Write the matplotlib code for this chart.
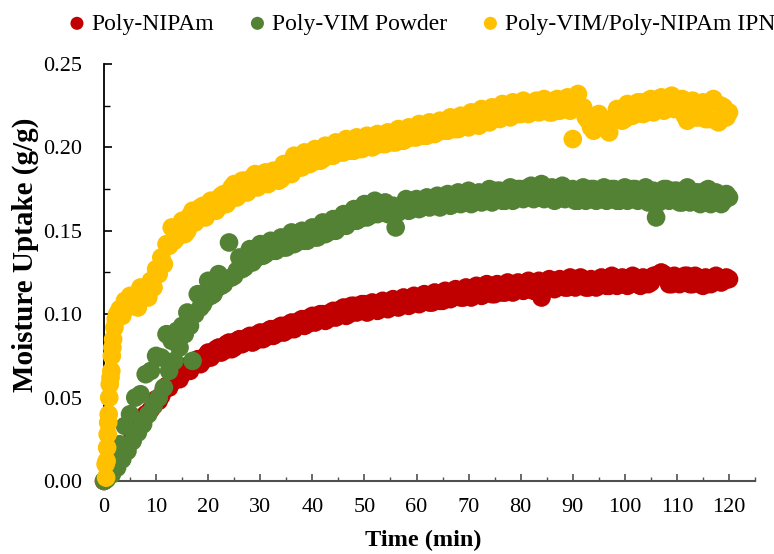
import matplotlib.pyplot as plt
import numpy as np

# moisture uptake (g/g): whole-minute readings
red_time = list(range(0, 121))
red_uptake = [
    0.000, 0.005, 0.009, 0.015, 0.019, 0.023, 0.030, 0.033, 0.040, 0.043,
    0.049, 0.051, 0.057, 0.059, 0.064, 0.064, 0.069, 0.069, 0.073, 0.072,
    0.077, 0.076, 0.080, 0.078, 0.083, 0.080, 0.085, 0.083, 0.087, 0.084,
    0.089, 0.086, 0.091, 0.088, 0.093, 0.090, 0.095, 0.093, 0.097, 0.094,
    0.099, 0.096, 0.100, 0.097, 0.102, 0.099, 0.104, 0.100, 0.105, 0.102,
    0.106, 0.102, 0.105, 0.103, 0.107, 0.104, 0.108, 0.105, 0.109, 0.106,
    0.110, 0.107, 0.111, 0.107, 0.112, 0.108, 0.113, 0.110, 0.114, 0.110,
    0.115, 0.111, 0.114, 0.112, 0.116, 0.112, 0.117, 0.113, 0.117, 0.114,
    0.118, 0.115, 0.119, 0.115, 0.110, 0.116, 0.119, 0.116, 0.120, 0.116,
    0.120, 0.117, 0.121, 0.116, 0.120, 0.117, 0.121, 0.117, 0.122, 0.118,
    0.121, 0.118, 0.122, 0.117, 0.121, 0.119, 0.123, 0.125, 0.121, 0.118,
    0.122, 0.119, 0.123, 0.118, 0.122, 0.117, 0.121, 0.119, 0.122, 0.120,
    0.121,
]
# half-minute readings in between
red_time_half = [m + 0.5 for m in range(0, 120)]
red_uptake_half = [
    0.002, 0.006, 0.011, 0.016, 0.021, 0.026, 0.031, 0.036, 0.041, 0.045,
    0.048, 0.055, 0.056, 0.062, 0.061, 0.067, 0.066, 0.071, 0.070, 0.075,
    0.074, 0.079, 0.077, 0.082, 0.079, 0.084, 0.082, 0.086, 0.083, 0.088,
    0.085, 0.090, 0.087, 0.092, 0.089, 0.094, 0.091, 0.096, 0.093, 0.098,
    0.095, 0.100, 0.096, 0.101, 0.098, 0.103, 0.099, 0.105, 0.101, 0.106,
    0.101, 0.107, 0.102, 0.108, 0.103, 0.109, 0.104, 0.110, 0.105, 0.111,
    0.106, 0.112, 0.107, 0.113, 0.108, 0.114, 0.109, 0.115, 0.110, 0.116,
    0.110, 0.117, 0.111, 0.118, 0.112, 0.118, 0.113, 0.119, 0.113, 0.119,
    0.114, 0.120, 0.114, 0.120, 0.115, 0.121, 0.115, 0.121, 0.116, 0.122,
    0.116, 0.122, 0.116, 0.121, 0.116, 0.122, 0.117, 0.123, 0.117, 0.122,
    0.117, 0.123, 0.118, 0.122, 0.118, 0.123, 0.124, 0.124, 0.118, 0.123,
    0.118, 0.123, 0.118, 0.123, 0.118, 0.122, 0.118, 0.123, 0.119, 0.122,
]

green_time = list(range(0, 121))
green_uptake = [
    0.000, 0.005, 0.015, 0.022, 0.033, 0.040, 0.050, 0.052, 0.064, 0.066,
    0.075, 0.074, 0.088, 0.084, 0.090, 0.093, 0.101, 0.072, 0.112, 0.106,
    0.120, 0.112, 0.124, 0.118, 0.143, 0.123, 0.134, 0.128, 0.139, 0.133,
    0.142, 0.136, 0.144, 0.138, 0.146, 0.140, 0.149, 0.143, 0.150, 0.144,
    0.152, 0.146, 0.155, 0.149, 0.157, 0.152, 0.160, 0.155, 0.163, 0.157,
    0.166, 0.159, 0.168, 0.161, 0.167, 0.162, 0.152, 0.163, 0.169, 0.163,
    0.169, 0.164, 0.170, 0.165, 0.171, 0.166, 0.172, 0.166, 0.173, 0.167,
    0.174, 0.167, 0.173, 0.168, 0.175, 0.169, 0.174, 0.168, 0.176, 0.170,
    0.175, 0.170, 0.177, 0.171, 0.178, 0.170, 0.176, 0.169, 0.177, 0.171,
    0.175, 0.168, 0.176, 0.170, 0.175, 0.169, 0.176, 0.170, 0.175, 0.168,
    0.176, 0.169, 0.175, 0.170, 0.176, 0.168, 0.158, 0.169, 0.175, 0.170,
    0.174, 0.167, 0.176, 0.169, 0.173, 0.167, 0.175, 0.168, 0.172, 0.168,
    0.170,
]
green_time_half = [m + 0.5 for m in range(0, 120)]
green_uptake_half = [
    0.001, 0.004, 0.008, 0.013, 0.018, 0.024, 0.029, 0.034, 0.040, 0.045,
    0.050, 0.056, 0.066, 0.072, 0.080, 0.088, 0.093, 0.100, 0.104, 0.109,
    0.111, 0.115, 0.117, 0.121, 0.122, 0.126, 0.127, 0.131, 0.131, 0.135,
    0.135, 0.138, 0.138, 0.141, 0.140, 0.143, 0.142, 0.145, 0.144, 0.147,
    0.146, 0.149, 0.148, 0.152, 0.150, 0.154, 0.153, 0.157, 0.156, 0.160,
    0.158, 0.162, 0.160, 0.164, 0.160, 0.165, 0.161, 0.166, 0.162, 0.167,
    0.163, 0.168, 0.164, 0.169, 0.164, 0.170, 0.165, 0.171, 0.166, 0.172,
    0.166, 0.172, 0.167, 0.173, 0.167, 0.174, 0.168, 0.174, 0.168, 0.175,
    0.169, 0.176, 0.169, 0.176, 0.169, 0.175, 0.168, 0.175, 0.169, 0.174,
    0.168, 0.174, 0.168, 0.175, 0.168, 0.175, 0.168, 0.175, 0.168, 0.174,
    0.168, 0.175, 0.168, 0.174, 0.167, 0.174, 0.167, 0.175, 0.168, 0.174,
    0.167, 0.174, 0.167, 0.173, 0.166, 0.174, 0.166, 0.173, 0.166, 0.172,
]

# the IPN jumps up in the first two minutes, so it is sampled finer there
yellow_time = [0.4, 0.6, 0.8, 1.0, 1.25, 1.5, 1.75, 2.0, 2.5] + list(range(3, 121))
yellow_uptake = [
    0.002, 0.020, 0.035, 0.050, 0.062, 0.075, 0.085, 0.092, 0.100,
    0.103, 0.108, 0.111, 0.109, 0.116, 0.114, 0.120,
    0.127, 0.134, 0.142, 0.152, 0.146, 0.156, 0.150, 0.162, 0.158, 0.165,
    0.161, 0.168, 0.164, 0.172, 0.168, 0.178, 0.172, 0.180, 0.176, 0.184,
    0.178, 0.185, 0.180, 0.186, 0.181, 0.188, 0.184, 0.194, 0.188, 0.196,
    0.191, 0.197, 0.193, 0.200, 0.195, 0.202, 0.197, 0.204, 0.198, 0.205,
    0.200, 0.206, 0.201, 0.207, 0.202, 0.208, 0.203, 0.209, 0.205, 0.210,
    0.206, 0.212, 0.207, 0.214, 0.209, 0.215, 0.210, 0.216, 0.211, 0.217,
    0.212, 0.219, 0.213, 0.220, 0.215, 0.222, 0.217, 0.224, 0.218, 0.225,
    0.220, 0.226, 0.221, 0.228, 0.222, 0.227, 0.221, 0.229, 0.223, 0.230,
    0.205, 0.232, 0.224, 0.216, 0.210, 0.220, 0.214, 0.209, 0.218, 0.222,
    0.217, 0.225, 0.220, 0.227, 0.221, 0.229, 0.222, 0.230, 0.224, 0.231,
    0.225, 0.229, 0.216, 0.228, 0.218, 0.227, 0.217, 0.229, 0.215, 0.224,
    0.221,
]
yellow_time_half = [0.3, 0.5, 0.7, 0.9, 1.1, 1.4, 1.6, 2.25] + [m + 0.5 for m in range(3, 120)]
yellow_uptake_half = [
    0.010, 0.012, 0.028, 0.040, 0.058, 0.066, 0.080, 0.097,
    0.099, 0.104, 0.106, 0.104, 0.110, 0.110, 0.116,
    0.124, 0.130, 0.141, 0.144, 0.150, 0.148, 0.159, 0.155, 0.164, 0.158,
    0.168, 0.162, 0.171, 0.166, 0.176, 0.170, 0.180, 0.173, 0.182, 0.176,
    0.184, 0.178, 0.186, 0.180, 0.190, 0.185, 0.195, 0.188, 0.197, 0.190,
    0.199, 0.192, 0.201, 0.195, 0.203, 0.197, 0.205, 0.198, 0.206, 0.199,
    0.207, 0.200, 0.208, 0.202, 0.209, 0.203, 0.211, 0.204, 0.212, 0.206,
    0.214, 0.207, 0.215, 0.208, 0.216, 0.210, 0.218, 0.211, 0.219, 0.213,
    0.221, 0.214, 0.223, 0.216, 0.224, 0.218, 0.226, 0.219, 0.227, 0.220,
    0.228, 0.220, 0.227, 0.221, 0.229, 0.221, 0.228, 0.222, 0.229, 0.222,
    0.230, 0.223, 0.218, 0.212, 0.219, 0.215, 0.211, 0.217, 0.223, 0.216,
    0.226, 0.219, 0.227, 0.220, 0.228, 0.221, 0.229, 0.222, 0.230, 0.223,
    0.228, 0.219, 0.226, 0.218, 0.226, 0.217, 0.227, 0.216, 0.225, 0.218,
]

labels = ['Poly-NIPAm', 'Poly-VIM Powder', 'Poly-VIM/Poly-NIPAm IPN']
colors = ['#C00000', '#548235', '#FFC000']

plt.rcParams['font.family'] = ['Liberation Serif', 'DejaVu Serif']

fig = plt.figure(figsize=(7.74, 5.54), dpi=100)
ax = fig.add_axes([0.1344, 0.1318, 0.8411, 0.7527])

series = [
    (red_time + red_time_half, red_uptake + red_uptake_half),
    (green_time + green_time_half, green_uptake + green_uptake_half),
    (yellow_time + yellow_time_half, yellow_uptake + yellow_uptake_half),
]
for (t, u), lab, c in zip(series, labels, colors):
    ax.scatter(t, u, s=180, color=c, edgecolors='none', label=lab, zorder=3, clip_on=False)

ax.set_xlim(0, 125)
ax.set_ylim(0, 0.25)
ax.set_xticks(np.arange(0, 121, 10))
ax.set_xticks(np.arange(0, 126, 5), minor=True)
ax.set_yticks(np.arange(0, 0.251, 0.05))
ax.set_yticks(np.arange(0, 0.251, 0.025), minor=True)
ax.yaxis.set_major_formatter(plt.FormatStrFormatter('%.2f'))

ax.tick_params(axis='both', which='both', direction='in', labelsize=16)
ax.tick_params(axis='x', which='major', length=5, width=1.2, color='#505050', pad=12)
ax.tick_params(axis='x', which='minor', length=3, width=1.0, color='#505050')
ax.tick_params(axis='y', which='major', length=6, width=1.2, pad=16)
ax.tick_params(axis='y', which='minor', length=4, width=1.0)

for side in ['top', 'right']:
    ax.spines[side].set_visible(False)
ax.spines['left'].set_linewidth(1.3)
ax.spines['bottom'].set_linewidth(1.5)
ax.spines['bottom'].set_color('#505050')

ax.set_xlabel('Time (min)', fontsize=17.5, fontweight='bold')
ax.set_ylabel('Moisture Uptake (g/g)', fontsize=21, fontweight='bold')
ax.yaxis.set_label_coords(-0.1, 0.542)
ax.xaxis.set_label_coords(0.49, -0.118)

fig.legend(loc='upper right', bbox_to_anchor=(1.018, 1.0), ncol=3, frameon=False,
           fontsize=17, markerscale=0.7, handlelength=0.5, handletextpad=0.35,
           columnspacing=1.6, borderaxespad=0.15)

fig.savefig('out.png', dpi=100)
